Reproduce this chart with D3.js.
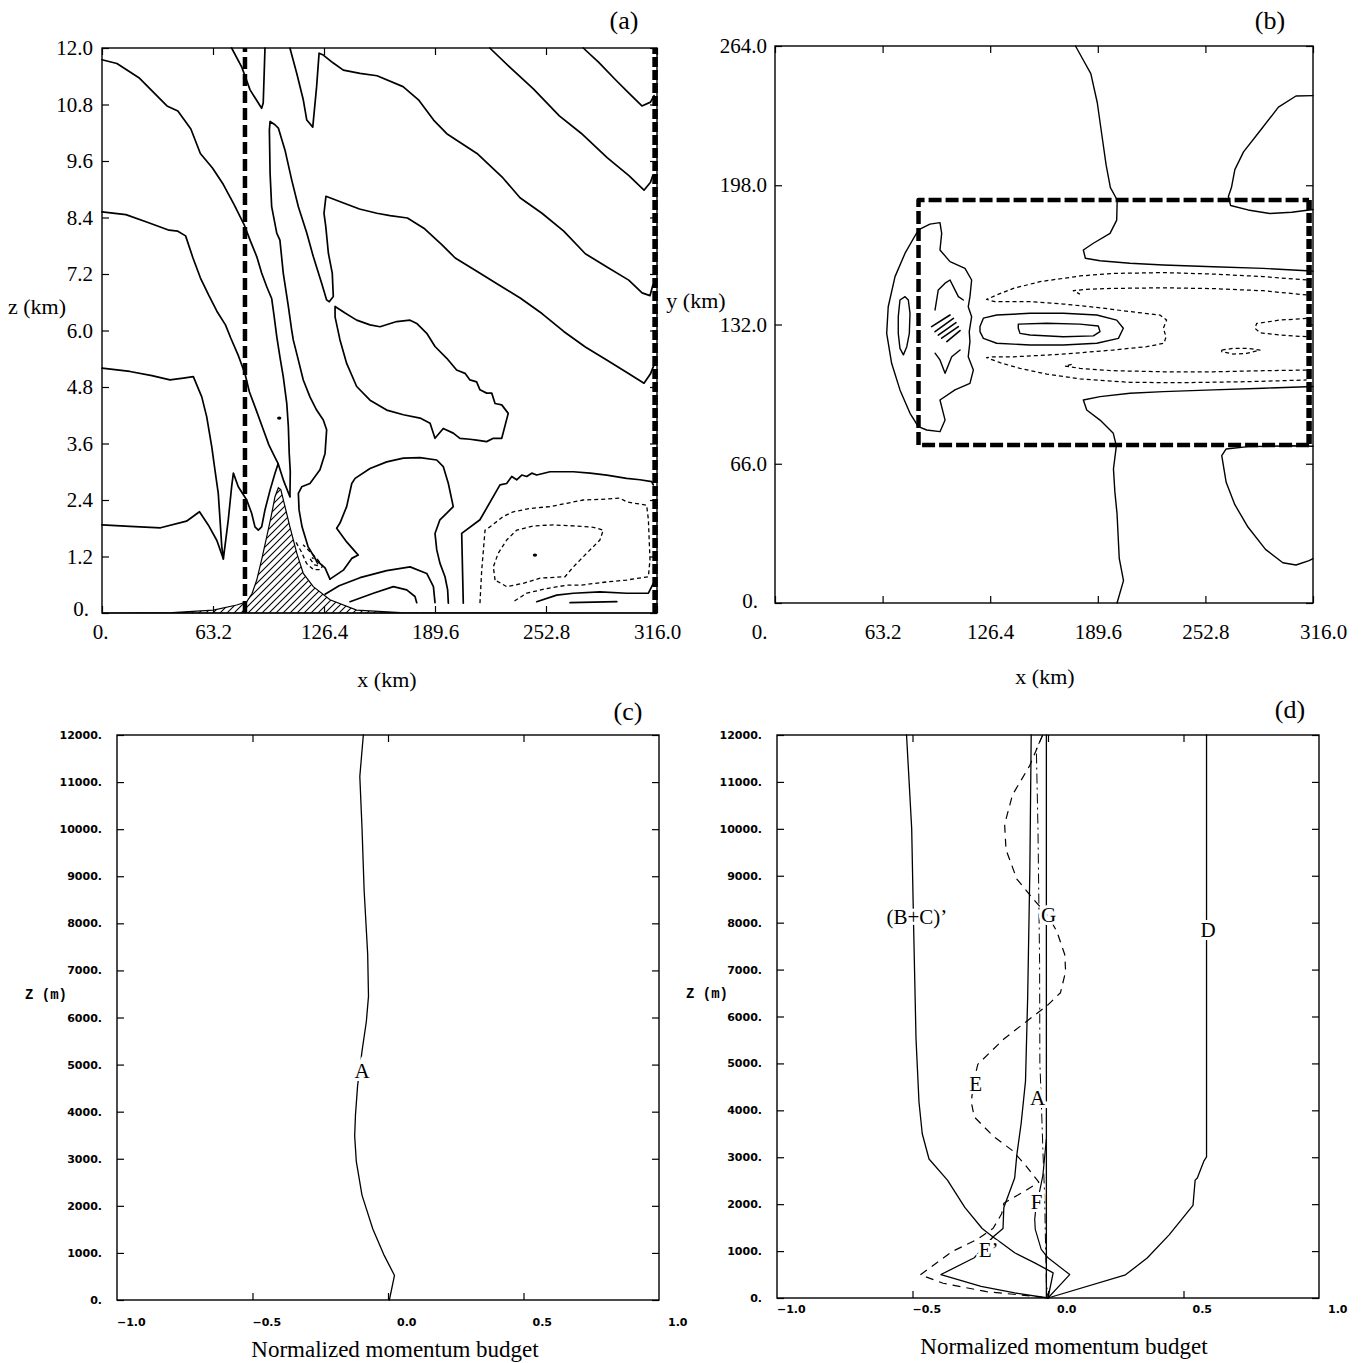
<!DOCTYPE html>
<html><head><meta charset="utf-8">
<script src="https://cdn.jsdelivr.net/npm/d3@7/dist/d3.min.js"></script>
<style>body{margin:0;background:#fff}svg{display:block}</style>
</head><body>
<svg id="chart" width="1365" height="1363"></svg>
<script>
// ===================== DATA =====================
// ---- tick labels
const abXLabels = ["0.","63.2","126.4","189.6","252.8","316.0"];
const aZLabels  = ["0.","1.2","2.4","3.6","4.8","6.0","7.2","8.4","9.6","10.8","12.0"];
const bYLabels  = ["0.","66.0","132.0","198.0","264.0"];
const cdXValues = [-1,-0.5,0,0.5,1];
const cdXLabels = ["\u22121.0","\u22120.5","0.0","0.5","1.0"];
const cdZLabels = ["0.","1000.","2000.","3000.","4000.","5000.","6000.","7000.","8000.","9000.","10000.","11000.","12000."];
const cdInnerX  = [-0.5,0,0.5];

// ---- panel (a): x (km), z (km)
const aTerrain = [[0,0],[40,0.01],[63.4,0.06],[76.7,0.17],[82.4,0.24],[85.5,0.42],[88.1,0.70],[91,1.15],[93.8,1.62],[96.3,2.05],[98.5,2.47],[100.4,2.66],[101.8,2.62],[104.2,2.26],[107.0,1.83],[110.9,1.27],[114.6,0.84],[120.3,0.56],[129.8,0.28],[145.0,0.06],[170,0.01],[316,0]];
const aBoundaryX = [81.4, 314.9];
const aC118 = [[0,11.75],[8.5,11.67],[21.0,11.37],[37.0,10.77],[43.2,10.66],[50.6,10.28],[56.0,9.76],[62.9,9.45],[69.1,9.10],[75.3,8.67],[80.9,8.25],[84.3,7.92],[88.1,7.57],[90.9,7.22],[93.8,6.93],[96.6,6.68],[97.9,6.33],[99.5,5.87],[101.3,5.44],[103.2,5.02],[105.2,4.45],[106.1,3.96],[106.6,3.39],[107.2,3.00],[107.0,2.47]];
const aC86 = [[0,8.52],[13.6,8.46],[25.8,8.30],[38.2,8.13],[43.2,8.11],[47.6,8.01],[51.8,7.54],[56.0,7.12],[60.9,6.74],[65.4,6.41],[70.3,6.12],[73.3,5.84],[77.7,5.46],[81.4,5.08],[83.9,4.70],[87.6,4.33],[91.3,3.95],[95.0,3.57],[98.7,3.29],[100.3,3.17],[103.5,2.80],[107.0,2.47]];
const aC52 = [[0,5.20],[15.9,5.13],[28.4,5.04],[38.7,4.95],[46.3,4.99],[52.0,5.02],[56.8,4.59],[59.6,4.17],[62.5,3.53],[64.3,3.04],[66.2,2.54],[67.2,1.98],[68.2,1.41],[69.1,1.15],[71.9,1.98],[73.8,2.68],[74.8,2.97],[77.6,2.68],[82.4,2.40],[85.2,2.12],[87.1,1.83],[89.0,1.76],[90.9,1.83],[92.8,2.19],[95.7,2.61],[98.5,2.97],[100.3,3.17]];
const aC18 = [[0,1.87],[15.9,1.84],[33.3,1.81],[48.1,1.95],[55.5,2.15],[60.5,1.87],[65.4,1.54],[69.1,1.15]];
const aV1 = [[73.8,12.0],[79.5,11.60],[84.3,11.11],[90.9,10.72],[91.8,10.83],[92.8,12.0]];
const aD2 = [[107.0,12.0],[110.9,11.46],[114.6,10.90],[116.6,10.47],[120.0,10.32],[122.2,11.18],[123.6,11.89],[126.0,11.85],[131.7,11.68],[137.4,11.53],[146.9,11.46],[156.6,11.41],[171.4,11.18],[180.2,10.90],[188.8,10.47],[196.3,10.18],[213.5,9.76],[228.3,9.24],[238.0,8.82],[250.5,8.49],[262.9,8.11],[275.2,7.63],[287.5,7.35],[299.9,7.07],[307.5,6.80],[312.0,6.74],[313.7,6.97]];
const aD1 = [[220.8,12.0],[232.0,11.60],[245.6,11.13],[260.4,10.56],[272.8,10.19],[287.6,9.67],[300.0,9.29],[308.6,8.98],[312.3,9.15],[313.6,9.29]];
const aD0 = [[274.0,12.0],[282.7,11.70],[292.5,11.32],[300.0,11.04],[307.4,10.77],[312.3,10.85],[314.3,10.99]];
const aTongue = [[314.3,5.27],[312.3,5.08],[308.6,4.88],[300.0,5.08],[287.6,5.37],[275.2,5.65],[262.9,5.98],[250.5,6.36],[238.1,6.69],[225.8,6.97],[213.4,7.26],[201.1,7.54],[193.6,7.82],[183.7,8.16],[173.9,8.39],[164.0,8.44],[156.5,8.49],[146.6,8.58],[136.8,8.72],[127.5,8.85],[126.4,8.49],[127.4,8.21],[128.9,7.64],[131.1,7.22],[131.7,6.72],[129.4,6.61],[127.9,6.65],[125.1,7.00],[120.3,7.57],[116.6,8.07],[111.8,8.63],[108.0,9.20],[104.2,9.83],[100.4,10.30],[98.5,10.37],[95.7,10.44],[95.3,10.26],[95.7,9.34],[96.6,8.63],[99.5,8.07],[101.3,7.92],[103.2,7.22],[106.1,6.51],[108.0,6.01],[108.9,5.80],[111.8,5.37],[114.6,4.95],[118.4,4.59],[122.2,4.31],[126.0,4.10],[127.9,3.89],[127.0,3.39],[124.1,3.04],[118.4,2.75],[113.7,2.68],[111.8,2.54],[112.2,2.19],[113.9,1.83],[117.3,1.41],[121.8,1.13],[127.0,0.96],[129.8,0.72]];
const aHill = [[129.8,0.72],[137.4,0.91],[142.2,1.16],[145.9,1.23],[139.3,1.51],[133.6,1.80],[135.5,1.91],[139.3,2.26],[142.2,2.75],[144.1,2.86],[152.6,3.07],[162.1,3.21],[171.6,3.29],[181.1,3.30],[190.6,3.25],[194.3,3.11],[197.2,2.75],[200.0,2.26],[196.3,2.12],[192.4,1.98],[189.6,1.69],[190.6,1.34],[192.4,1.06],[195.3,0.77],[196.8,0.49],[197.2,0.21]];
const aBay = [[132.7,6.51],[138.4,6.37],[145.0,6.22],[152.6,6.12],[158.3,6.08],[167.8,6.19],[175.4,6.22],[179.2,6.15],[184.9,5.94],[189.6,5.66],[196.3,5.41],[201.9,5.16],[206.7,5.09],[209.5,4.95],[213.3,4.91],[215.2,4.74],[219.0,4.67],[221.9,4.67],[223.8,4.45],[227.6,4.42],[231.3,4.24],[227.6,3.71],[222.8,3.71],[219.0,3.64],[213.3,3.67],[209.5,3.69],[203.8,3.71],[200.0,3.82],[194.3,3.92],[189.6,3.71],[186.8,4.03],[181.1,4.14],[171.6,4.21],[162.1,4.31],[152.6,4.52],[145.0,4.81],[139.3,5.30],[135.5,5.80],[132.7,6.29],[132.7,6.51]];
const aArc1 = [[127.0,0.40],[135.0,0.58],[146.9,0.75],[162.1,0.90],[175.4,0.98],[184.9,0.84],[188.7,0.56],[189.6,0.22]];
const aArc2 = [[141.2,0.24],[154.5,0.42],[165.9,0.56],[173.5,0.49],[178.2,0.35],[179.2,0.22]];
const aLowRight = [[205.7,0.21],[204.8,1.69],[215.2,1.98],[226.6,2.72],[230.4,2.75],[233.3,2.90],[236.1,2.83],[239.0,2.93],[241.8,2.90],[244.7,2.97],[247.5,2.93],[255.1,3.00],[268.4,3.00],[277.9,2.97],[287.4,2.93],[298.7,2.86],[306.3,2.83],[313.0,2.79],[313.9,2.72]];
const aLowRight2 = [[313.9,0.63],[311.1,0.42],[298.7,0.42],[283.5,0.45],[268.4,0.42],[258.9,0.38],[247.5,0.24]];
const aLowRight3 = [[266.5,0.22],[293.1,0.24]];
const aNegOuter = [[215.2,0.21],[216.2,0.91],[218.1,1.76],[220.9,1.83],[228.5,2.05],[234.2,2.15],[243.7,2.22],[255.1,2.26],[264.6,2.33],[274.0,2.40],[287.4,2.42],[294.9,2.44],[298.7,2.36],[310.1,2.29],[311.1,1.98],[312.0,1.13],[311.1,0.77],[298.7,0.70],[287.4,0.66],[272.2,0.59],[264.6,0.59],[253.2,0.52],[241.8,0.42],[234.2,0.24]];
const aNegInner = [[223.8,0.70],[222.8,0.98],[225.6,1.27],[230.4,1.55],[236.1,1.76],[245.6,1.85],[257.0,1.87],[268.4,1.85],[279.7,1.82],[285.4,1.76],[283.5,1.55],[276.0,1.27],[268.4,0.98],[263.6,0.77],[249.4,0.74],[239.9,0.63],[230.4,0.56],[223.8,0.70]];
const aNegLee = [[110.5,1.50],[113.5,1.30],[116.5,1.05],[120.5,0.92],[124.5,0.92],[125.5,1.00],[122.5,1.15],[118.5,1.30],[114.5,1.45]];
const aNegLeeIn = [[118.5,1.15],[121,1.02],[123.5,1.0],[122,1.1],[119.5,1.18]];
const aDots = [[100.9,4.14],[246.5,1.23]];

// ---- panel (b): x (km), y (km)
const bBoxX = [84.3, 313.7];
const bBoxY = [74.9, 191.0];
const bUpper = [[176.5,264.0],[180.4,258.3],[185.5,250.9],[189.3,237.1],[191.9,222.3],[194.5,207.5],[197.0,196.9],[201.0,191.0],[200.7,181.5],[196.8,175.2],[187.0,170.5],[181.1,167.3],[182.3,163.4],[190.9,162.2],[208.5,161.0],[228.1,160.2],[257.4,159.4],[286.8,158.6],[312.3,157.5],[316,157.3]];
const bLower = [[200.9,0],[204.7,10.6],[202.2,21.2],[200.9,42.3],[199.6,52.9],[198.8,63.5],[200.5,74.5],[198.7,80.4],[190.9,86.7],[183.1,91.5],[181.1,96.2],[190.9,97.8],[208.5,99.4],[228.1,100.2],[257.4,101.0],[286.8,101.8],[312.3,102.5],[316,102.6]];
const bBlobTop = [[316,240.5],[306.0,240.3],[295.7,235.0],[285.5,224.4],[275.2,213.8],[270.1,205.4],[268.1,196.9],[266.3,192.7],[267.6,188.4],[277.8,186.3],[290.6,184.6],[303.5,185.2],[313.7,186.3],[316,186.5]];
const bBlobBot = [[316,74.3],[303.5,74.5],[277.8,74.1],[265.0,73.0],[262.4,69.9],[265.0,57.2],[270.1,46.6],[277.8,36.0],[288.1,25.4],[298.3,19.1],[306.0,18.0],[313.7,20.1],[316,21.0]];
const bCap = [[84.2,176.8],[91.0,179.6],[96.9,180.3],[97.9,175.2],[96.9,167.3],[102.8,161.8],[111.6,158.6],[115.5,153.1],[114.5,145.2],[113.5,140.4],[115.5,135.7],[114.1,128.6],[114.5,123.9],[113.5,116.7],[116.5,110.4],[114.5,104.1],[105.7,101.0],[96.9,96.2],[99.9,86.7],[96.9,81.2],[89.1,82.0],[84.2,83.6],[79.3,89.9],[73.4,101.0],[68.5,113.6],[65.6,127.8],[66.5,140.4],[70.5,154.7],[76.4,165.8],[84.2,176.8]];
const bCapInner = [[73.4,143.6],[76.4,145.2],[78.3,143.6],[79.3,137.3],[78.9,127.8],[77.4,121.5],[75.4,117.6],[73.4,120.7],[72.4,127.8],[72.4,135.7],[73.4,143.6]];
const bArcUp = [[94.0,138.9],[95.9,148.4],[99.9,151.6],[102.8,153.1],[105.7,148.4],[107.7,145.2],[110.6,143.6]];
const bArcLow = [[94.0,118.4],[96.9,115.2],[99.9,108.9],[103.8,116.7],[108.7,119.9]];
const bJetOuter = [[120.4,131.0],[122.4,135.0],[130.2,136.5],[149.8,137.3],[169.4,137.3],[189.0,136.5],[200.7,134.1],[204.6,130.2],[201.7,125.4],[189.0,123.1],[169.4,122.3],[149.8,122.3],[130.2,123.1],[122.4,125.4],[120.4,128.6],[120.4,131.0]];
const bJetInner = [[142.9,132.2],[159.6,132.6],[179.1,132.2],[189.9,131.3],[190.9,128.6],[187.0,126.6],[169.4,126.2],[149.8,127.0],[143.9,127.8],[142.9,130.2],[142.9,132.2]];
const bNegA = [[312.3,153.1],[286.8,154.7],[257.5,155.9],[228.1,156.6],[198.7,156.2],[179.1,155.0],[155.6,152.3],[140.0,149.1],[130.2,146.0],[124.3,143.9],[129.2,142.8],[149.8,142.8],[169.4,141.7],[188.9,140.1],[208.5,138.1],[226.1,136.5],[230.0,134.1],[228.1,130.2],[229.7,126.2],[228.5,123.1],[218.3,121.5],[198.7,119.9],[179.1,118.6],[159.6,117.5],[140.0,116.7],[128.2,116.7],[124.3,116.3],[132.2,113.9],[143.9,111.2],[159.6,108.5],[179.1,106.2],[208.5,104.6],[237.9,104.4],[277.0,104.9],[312.3,105.7]];
const bNegBUp = [[312.3,146.0],[286.8,148.0],[257.5,149.0],[228.1,149.4],[198.7,149.1],[183.1,148.7],[175.2,148.0],[179.1,146.4]];
const bNegBLow = [[312.3,110.4],[286.8,110.1],[257.5,109.6],[228.1,109.6],[198.7,110.1],[179.1,111.2],[170.3,112.3],[175.2,113.3]];
const bNegWedge = [[312.3,134.9],[296.6,134.1],[282.9,132.5],[281.9,130.2],[284.9,128.1],[296.6,127.0],[312.3,126.2]];
const bNegSmall = [[262.4,119.9],[269.2,120.7],[277.0,120.7],[284.9,119.9],[277.0,118.3],[269.2,118.0],[262.4,119.1],[262.4,119.9]];
const bRidge = [[[92.0,131.0],[102.8,136.5]],[[94.0,128.6],[104.8,134.9]],[[95.9,127.0],[106.3,132.9]],[[97.9,125.5],[107.7,131.0]],[[100.9,123.9],[108.7,129.1]]];

// ---- panel (c): normalized budget, z (m)
const cA = [[-0.091,12000],[-0.104,11119],[-0.096,10042],[-0.088,8694],[-0.075,7347],[-0.072,6449],[-0.08,5910],[-0.096,5281],[-0.104,4900],[-0.112,4563],[-0.12,3934],[-0.123,3485],[-0.117,2946],[-0.096,2228],[-0.056,1509],[-0.016,970],[0.024,521],[0.005,0]];
const cLabels = [{t:"A",x:-0.096,z:4877}];

// ---- panel (d)
const dBC = [[-0.522,12000],[-0.503,10007],[-0.496,7943],[-0.487,5520],[-0.476,4173],[-0.464,3500],[-0.439,2962],[-0.371,2513],[-0.307,1930],[-0.243,1481],[-0.203,1301],[-0.173,1179],[-0.123,964],[-0.049,750],[0.019,536],[0,0]];
const dEp = [[-0.062,12000],[-0.067,9109],[-0.075,6417],[-0.083,4622],[-0.099,3725],[-0.115,3051],[-0.123,2558],[-0.163,1930],[-0.166,1481],[-0.203,1301],[-0.272,857],[-0.395,500],[-0.247,250],[-0.123,107],[0,0]];
const dD = [[0,0],[0.286,494],[0.366,853],[0.447,1346],[0.535,1975],[0.543,2513],[0.551,2558],[0.575,2917],[0.585,3007],[0.585,12000]];
const dG = [[-0.006,12000],[-0.006,0]];
const dF = [[-0.006,3393],[-0.019,2607],[-0.03,2300],[-0.045,1900],[-0.049,1679],[-0.047,1464],[-0.025,1036],[0,857],[0.08,500],[0,0]];
const dE = [[-0.02,12000],[-0.067,11353],[-0.131,10725],[-0.16,10097],[-0.155,9558],[-0.115,8930],[-0.051,8481],[0.0,8150],[0.033,7808],[0.062,7315],[0.065,6956],[0.046,6507],[-0.002,6238],[-0.083,5879],[-0.163,5520],[-0.243,5071],[-0.259,4981],[-0.275,4600],[-0.283,4173],[-0.272,3859],[-0.203,3455],[-0.131,3141],[-0.083,2827],[-0.034,2468],[-0.083,2289],[-0.163,2019],[-0.171,1795],[-0.203,1481],[-0.259,1256],[-0.355,987],[-0.471,494],[-0.387,314],[-0.227,135],[-0.066,45],[0,0]];
const dA = [[-0.019,12000],[-0.043,11700],[-0.037,10000],[-0.031,7150],[-0.03,5000],[-0.025,4250],[-0.019,3179],[-0.012,2107],[-0.01,1393],[-0.006,321],[0,0]];
const dLabels = [{t:"(B+C)\u2019",x:-0.484,z:8122},{t:"G",x:0.002,z:8167},{t:"D",x:0.591,z:7853},{t:"E",x:-0.267,z:4577},{t:"A",x:-0.038,z:4263},{t:"F",x:-0.042,z:2064},{t:"E\u2019",x:-0.219,z:1032}];

// ===================== DRAWING =====================
const SERIF = "'Liberation Serif','Times New Roman',Times,serif";
const SANSB = "'DejaVu Sans',sans-serif";
const MONO = "'Liberation Mono','DejaVu Sans Mono',monospace";
const svg = d3.select("#chart");
svg.append("rect").attr("width",1365).attr("height",1363).attr("fill","#fff");
const defs = svg.append("defs");
const pat = defs.append("pattern").attr("id","hatch").attr("patternUnits","userSpaceOnUse").attr("width",7).attr("height",7);
pat.append("path").attr("d","M-1,1 l2,-2 M0,7 l7,-7 M6,8 l2,-2").attr("stroke","#000").attr("stroke-width",1.1);

function drawPath(g, data, sx, sy, o) {
  const ln = d3.line().x(d=>sx(d[0])).y(d=>sy(d[1]));
  const p = g.append("path").attr("d", ln(data)).attr("fill","none")
    .attr("stroke","#000").attr("stroke-width", o.w || 1.5)
    .attr("stroke-linejoin","round").attr("stroke-linecap", o.cap || "round");
  if (o.dash) p.attr("stroke-dasharray", o.dash);
  return p;
}
function styleAxis(sel, font, size, weight) {
  sel.select(".domain").remove();
  sel.selectAll("line").attr("stroke","#000").attr("stroke-width",1.2);
  sel.selectAll("text").attr("fill","#000").attr("font-family",font).attr("font-size",size).attr("font-weight",weight||"normal");
}
function frame(g, sx, sy) {
  const [x0,x1]=sx.range(), [y0,y1]=sy.range();
  g.append("rect").attr("x",x0).attr("y",y1).attr("width",x1-x0).attr("height",y0-y1)
    .attr("fill","none").attr("stroke","#000").attr("stroke-width",1.4);
}
function textLabel(x,y,t,size,anchor,font){
  return svg.append("text").attr("x",x).attr("y",y).attr("text-anchor",anchor||"middle")
    .attr("dy","0.35em").attr("font-family",font||SERIF).attr("font-size",size).attr("fill","#000").text(t);
}

// ---------- Panel (a)
{
  const x = d3.scaleLinear([0,316],[102,657]);
  const z = d3.scaleLinear([0,12],[613,48]);
  const g = svg.append("g");
  const xv = abXLabels.map(parseFloat), zv = aZLabels.map(parseFloat);
  g.append("path").datum(aTerrain)
    .attr("d", d3.area().x(d=>x(d[0])).y0(z(0)).y1(d=>z(d[1])))
    .attr("fill","url(#hatch)").attr("stroke","#000").attr("stroke-width",1.2);
  [aC118,aC86,aC52,aC18,aV1,aD2,aD1,aD0,aTongue,aHill,aBay,aArc1,aArc2,aLowRight,aLowRight2,aLowRight3]
    .forEach(c=>drawPath(g,c,x,z,{w:1.7}));
  [aNegOuter,aNegInner,aNegLee,aNegLeeIn].forEach(c=>drawPath(g,c,x,z,{w:1.3,dash:"4,3",cap:"butt"}));
  aDots.forEach(d=>g.append("ellipse").attr("cx",x(d[0])).attr("cy",z(d[1])).attr("rx",2.2).attr("ry",1.6).attr("fill","#000"));
  drawPath(g,[[aBoundaryX[0],0],[aBoundaryX[0],12]],x,z,{w:4.5,dash:"12,5",cap:"butt"});
  drawPath(g,[[aBoundaryX[1],0],[aBoundaryX[1],12]],x,z,{w:5.5,dash:"10,3",cap:"butt"});
  const b = g.append("g").attr("transform",`translate(0,${z(0)})`)
    .call(d3.axisBottom(x).tickValues(xv).tickFormat((d,i)=>abXLabels[i]).tickSizeInner(-7).tickSizeOuter(0).tickPadding(11));
  styleAxis(b,SERIF,21);
  b.selectAll("text").filter((d,i)=>i===0).attr("x",-2);
  const t = g.append("g").attr("transform",`translate(0,${z(12)})`)
    .call(d3.axisTop(x).tickValues(xv).tickFormat("").tickSizeInner(-7).tickSizeOuter(0));
  styleAxis(t,SERIF,21);
  const l = g.append("g").attr("transform",`translate(${x(0)},0)`)
    .call(d3.axisLeft(z).tickValues(zv).tickFormat((d,i)=>aZLabels[i]).tickSizeInner(-7).tickSizeOuter(0).tickPadding(9));
  styleAxis(l,SERIF,21);
  l.selectAll("text").filter((d,i)=>i===0).attr("x",-13).attr("dy","0.1em");
  const r = g.append("g").attr("transform",`translate(${x(316)},0)`)
    .call(d3.axisRight(z).tickValues(zv).tickFormat("").tickSizeInner(-7).tickSizeOuter(0));
  styleAxis(r,SERIF,21);
  frame(g,x,z);
  textLabel(37,306,"z (km)",22);
  textLabel(387,679,"x (km)",22);
  textLabel(624,20,"(a)",26);
}

// ---------- Panel (b)
{
  const x = d3.scaleLinear([0,316],[775,1313]);
  const y = d3.scaleLinear([0,264],[603,46]);
  const g = svg.append("g");
  const xv = abXLabels.map(parseFloat), yv = bYLabels.map(parseFloat);
  [bUpper,bLower,bBlobTop,bBlobBot,bCap,bCapInner,bArcUp,bArcLow,bJetOuter,bJetInner]
    .forEach(c=>drawPath(g,c,x,y,{w:1.4}));
  bRidge.forEach(s=>drawPath(g,s,x,y,{w:1.6}));
  [bNegA,bNegBUp,bNegBLow,bNegWedge,bNegSmall].forEach(c=>drawPath(g,c,x,y,{w:1.25,dash:"4,3",cap:"butt"}));
  const bx = [[bBoxX[0],bBoxY[0]],[bBoxX[0],bBoxY[1]],[bBoxX[1],bBoxY[1]],[bBoxX[1],bBoxY[0]],[bBoxX[0],bBoxY[0]]];
  drawPath(g,bx.slice(0,3),x,y,{w:4.5,dash:"13,4",cap:"butt"});
  drawPath(g,bx.slice(2,4),x,y,{w:5.5,dash:"10,3",cap:"butt"});
  drawPath(g,bx.slice(3,5),x,y,{w:4.5,dash:"13,4",cap:"butt"});
  const b = g.append("g").attr("transform",`translate(0,${y(0)})`)
    .call(d3.axisBottom(x).tickValues(xv).tickFormat((d,i)=>abXLabels[i]).tickSizeInner(-7).tickSizeOuter(0).tickPadding(21));
  styleAxis(b,SERIF,21);
  b.selectAll("text").filter((d,i)=>i===0).attr("x",-16);
  b.selectAll("text").filter((d,i)=>i===5).attr("x",10);
  const t = g.append("g").attr("transform",`translate(0,${y(264)})`)
    .call(d3.axisTop(x).tickValues(xv).tickFormat("").tickSizeInner(-7).tickSizeOuter(0));
  styleAxis(t,SERIF,21);
  const l = g.append("g").attr("transform",`translate(${x(0)},0)`)
    .call(d3.axisLeft(y).tickValues(yv).tickFormat((d,i)=>bYLabels[i]).tickSizeInner(-7).tickSizeOuter(0).tickPadding(8));
  styleAxis(l,SERIF,21);
  l.selectAll("text").filter((d,i)=>i===0).attr("x",-17).attr("dy","0.2em");
  const r = g.append("g").attr("transform",`translate(${x(316)},0)`)
    .call(d3.axisRight(y).tickValues(yv).tickFormat("").tickSizeInner(-7).tickSizeOuter(0));
  styleAxis(r,SERIF,21);
  frame(g,x,y);
  textLabel(696,300,"y (km)",22);
  textLabel(1045,676,"x (km)",22);
  textLabel(1270,20,"(b)",26);
}

// ---------- Panels (c) and (d)
function budgetPanel(x, z, xLabY, lines, labels, panelTag, tagX, tagY, zLabX, titleX, titleY) {
  const g = svg.append("g");
  const zv = cdZLabels.map(parseFloat);
  const l = g.append("g").attr("transform",`translate(${x(-1)},0)`)
    .call(d3.axisLeft(z).tickValues(zv).tickFormat((d,i)=>cdZLabels[i]).tickSizeInner(-7).tickSizeOuter(0).tickPadding(15));
  styleAxis(l,SANSB,11,"bold");
  const r = g.append("g").attr("transform",`translate(${x(1)},0)`)
    .call(d3.axisRight(z).tickValues(zv).tickFormat("").tickSizeInner(-7).tickSizeOuter(0));
  styleAxis(r,SANSB,11);
  const b = g.append("g").attr("transform",`translate(0,${z(0)})`)
    .call(d3.axisBottom(x).tickValues(cdInnerX).tickFormat("").tickSizeInner(-7).tickSizeOuter(0));
  styleAxis(b,SANSB,11);
  const t = g.append("g").attr("transform",`translate(0,${z(12000)})`)
    .call(d3.axisTop(x).tickValues(cdInnerX).tickFormat("").tickSizeInner(-7).tickSizeOuter(0));
  styleAxis(t,SANSB,11);
  g.selectAll("text.xl").data(cdXValues).join("text").attr("class","xl")
    .attr("x",(d)=>x(d)+(d>=0?9:0)).attr("y",xLabY).attr("dy","0.35em")
    .attr("text-anchor","start").attr("font-family",SANSB).attr("font-size",11).attr("font-weight","bold")
    .attr("fill","#000").text((d,i)=>cdXLabels[i]);
  lines.forEach(L=>drawPath(g,L.data,x,z,L.o));
  g.selectAll("text.ll").data(labels).join("text").attr("class","ll")
    .attr("x",d=>x(d.x)).attr("y",d=>z(d.z)).attr("dy","0.35em").attr("text-anchor","middle")
    .attr("font-family",SERIF).attr("font-size",21).attr("fill","#000")
    .attr("stroke","#fff").attr("stroke-width",6).attr("paint-order","stroke").text(d=>d.t);
  frame(g,x,z);
  textLabel(zLabX,z(6500),"Z (m)",14,"middle",MONO).attr("font-weight","bold");
  textLabel(titleX,titleY,"Normalized momentum budget",23);
  textLabel(tagX,tagY,panelTag,26);
}
{
  const x = d3.scaleLinear([-1,1],[117,659]);
  const z = d3.scaleLinear([0,12000],[1300,735]);
  budgetPanel(x,z,1322,[{data:cA,o:{w:1.3}}],cLabels,"(c)",628,711,46,395,1349);
}
{
  const x = d3.scaleLinear([-1,1],[777,1319]);
  const z = d3.scaleLinear([0,12000],[1298,735]);
  budgetPanel(x,z,1309,[
    {data:dG,o:{w:1.3}},
    {data:dBC,o:{w:1.3}},
    {data:dEp,o:{w:1.3}},
    {data:dD,o:{w:1.3}},
    {data:dF,o:{w:1.2}},
    {data:dE,o:{w:1.2,dash:"8,6",cap:"butt"}},
    {data:dA,o:{w:1.0,dash:"10,4,2,4",cap:"butt"}}
  ],dLabels,"(d)",1290,709,707,1064,1346);
}
</script>
</body></html>
